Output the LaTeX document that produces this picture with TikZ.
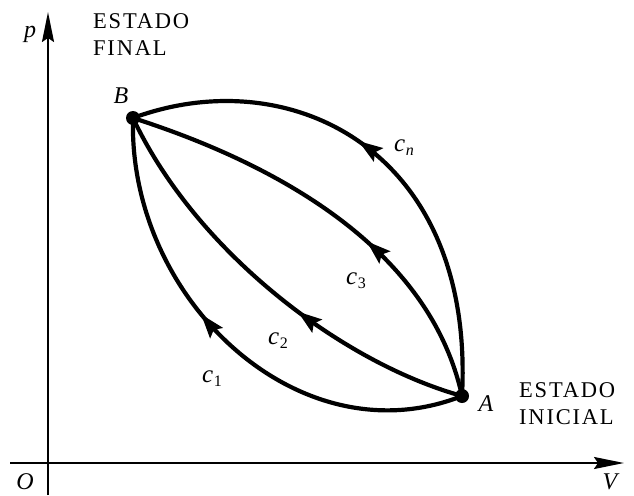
\documentclass[tikz,border=0pt]{standalone}
\usepackage{fontspec}
\setmainfont{Liberation Serif}
\usetikzlibrary{arrows.meta,decorations.markings}
\tikzset{
  axis/.style={line width=2pt,-{Stealth[length=30pt,width=12pt,inset=4pt]}},
  curve/.style={line width=4.2pt},
  midarrow/.style={postaction={decorate},decoration={markings,
     mark=at position #1 with {\arrow{Stealth[length=24pt,width=16pt,inset=4pt]}}}},
  lbl/.style={font=\fontsize{24}{28}\selectfont\itshape,inner sep=0pt},
  clbl/.style={font=\fontsize{25}{28}\selectfont\itshape,inner sep=0pt},
  state/.style={font=\fontsize{22.5}{27}\selectfont\addfontfeature{LetterSpace=8},align=left,inner sep=0pt,anchor=north west},
  dot/.style={circle,fill=black,inner sep=0pt,minimum size=14pt}
}
\newcommand{\csub}[2]{#1\kern0.5pt\raisebox{-0.35ex}{\fontsize{16}{16}\selectfont\upshape #2}}
\begin{document}
\begin{tikzpicture}[x=1pt,y=-1pt]
\useasboundingbox (0,0) rectangle (634,495);
% axes
\coordinate (yb) at (48,495);
\coordinate (yt) at (48,12);
\coordinate (xl) at (10,463);
\coordinate (xr) at (624,463);
\draw[axis] (yb) -- (yt);
\draw[axis] (xl) -- (xr);
\node[lbl] (p) at (30,34) {p};
\node[lbl] (O) at (25,482) {O};
\node[lbl] (V) at (610,482) {V};
% states
\node[dot] (B) at (133,118) {};
\node[dot] (A) at (462,396) {};
\node[lbl] (Bl) at (121,96) {B};
\node[lbl] (Al) at (486,404) {A};
\node[state] (fin) at (93,13) {ESTADO\\FINAL};
\node[state] (ini) at (519,382) {ESTADO\\INICIAL};
% processes
\draw[curve,midarrow=0.55] (A.center) .. controls (475,150) and (290,60) .. (B.center);
\draw[curve,midarrow=0.41] (A.center) .. controls (430,250) and (280,165) .. (B.center);
\draw[curve,midarrow=0.42] (A.center) .. controls (340,362) and (195,250) .. (B.center);
\draw[curve,midarrow=0.58] (A.center) .. controls (300,460) and (128,300) .. (B.center);
\node[clbl] (cn) at (404,148) {\csub{c}{\itshape n}};
\node[clbl] (c3) at (356,281) {\csub{c}{3}};
\node[clbl] (c2) at (278,341) {\csub{c}{2}};
\node[clbl] (c1) at (212,379) {\csub{c}{1}};
\end{tikzpicture}
\end{document}
